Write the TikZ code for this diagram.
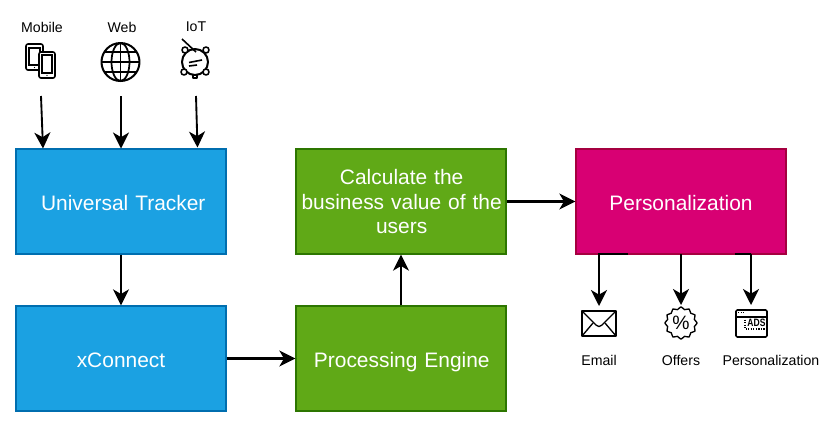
\documentclass[tikz,border=0pt]{standalone}
\usepackage{fontspec}
\setmainfont{Liberation Sans}
\usetikzlibrary{arrows.meta}
\definecolor{bluebox}{HTML}{1BA1E2}
\definecolor{blueline}{HTML}{006EAF}
\definecolor{greenbox}{HTML}{60A917}
\definecolor{greenline}{HTML}{2D7600}
\definecolor{pinkbox}{HTML}{D80073}
\definecolor{pinkline}{HTML}{A50040}
\newcommand{\lowered}[1]{\raisebox{-6.4pt}[0pt][0pt]{#1}}
\tikzset{
  x=0.75pt,y=-0.75pt,
  boxnode/.style={draw,line width=1pt,minimum width=157.5pt,minimum height=78.75pt,text width=155pt,align=center,text=white,font=\fontsize{15.7}{18}\selectfont,inner sep=0pt},
  bluenode/.style={boxnode,fill=bluebox,draw=blueline},
  greennode/.style={boxnode,fill=greenbox,draw=greenline},
  pinknode/.style={boxnode,fill=pinkbox,draw=pinkline},
  lbl/.style={font=\fontsize{10.6}{12}\selectfont,text=black,inner sep=0pt},
  link/.style={line width=1.4pt,draw=black,-{Stealth[length=12pt,width=12pt,inset=3.5pt]}},
  hlink/.style={link,line width=1.55pt},
  icon/.style={line width=1.2pt,draw=black,line join=round},
  iconthin/.style={line width=0.9pt,draw=black}
}
\begin{document}
\begin{tikzpicture}
\useasboundingbox (0,0) rectangle (839,437);
\fill[white] (0,0) rectangle (839,437);
\node[bluenode] (ut) at (121,201.5) {\lowered{\hspace*{3.4pt}Universal Tracker}};
\node[bluenode] (xc) at (121,358.5) {\lowered{xConnect}};
\node[greennode] (pe) at (401,358.5) {\lowered{\hspace*{1.2pt}Processing Engine}};
\node[greennode] (cb) at (401,201.5) {\vspace*{1.2pt}\hspace*{1pt}Calculate the\\\hspace*{1pt}business value of the\\\hspace*{1pt}users};
\node[pinknode] (pz) at (681,201.5) {\lowered{Personalization}};
% labels
\node[lbl] (lmobile) at (42,27) {Mobile};
\node[lbl] (lweb) at (122,27) {Web};
\node[lbl] (liot) at (196,27) {IoT};
\node[lbl] (lemail) at (599,360) {Email};
\node[lbl] (loffers) at (681,360) {Offers};
\node[lbl] (lpers) at (771,360) {Personalization};
% mobile icon
\draw[icon,rounded corners=1.5pt] (26,44) rectangle (43,70);
\draw[iconthin] (29,48) rectangle (40,65);
\fill[white,rounded corners=1.5pt] (39,52) rectangle (55,78);
\draw[icon,rounded corners=1.5pt] (39,52) rectangle (55,78);
\draw[iconthin] (42,55) rectangle (52,73);
\fill (34.5,67.5) circle (0.7) (47,75.5) circle (0.7);
% globe icon
\draw[icon,line width=1.5pt] (120.5,62) circle (19);
\draw[icon,line width=1.3pt] (120.5,62) ellipse (9 and 19);
\draw[icon,line width=1.3pt] (120.5,43) -- (120.5,81) (101.5,62) -- (139.5,62);
\draw[icon,line width=1.3pt] (104,52) -- (137,52) (104,72) -- (137,72);
% IoT icon
\draw[icon,line width=1.5pt] (195,62) circle (13);
\foreach \a/\b in {185/50,206/50,184/72,206/72}{\draw[icon,fill=white] (\a,\b) circle (3);}
\draw[icon] (193,75) rectangle (197,78);
\draw[icon] (182,39) -- (196,52);
\draw[icon] (189,62.5) -- (202,60) (189,66) -- (197,65);
% email icon
\draw[icon] (582,311) rectangle (616,336);
\draw[icon,line width=1pt] (582,311) -- (596,325) .. controls (598,327) and (600,327) .. (602,325) -- (616,311);
\draw[icon,line width=1pt] (582,336) -- (593,323) (616,336) -- (605,323);
% offers icon
\draw[icon,line width=1pt,smooth cycle] plot[samples=24,domain=0:345,variable=\t] ({681+(15+1.2*cos(12*\t))*cos(\t)},{323+(15+1.2*cos(12*\t))*sin(\t)});
\node[inner sep=0pt,font=\fontsize{14.5}{14.5}\selectfont] (pct) at (681,323) {\%};
% ads icon
\draw[icon,rounded corners=1pt] (736,310) rectangle (767,337);
\draw[iconthin] (736,317) -- (767,317);
\draw[iconthin,densely dotted] (738,312.5) -- (744,312.5);
\draw[iconthin,densely dotted] (745,317) -- (745,329) -- (767,329);
\node[inner sep=0pt,font=\fontsize{8}{8}\bfseries\selectfont,xscale=0.8] (ads) at (756.5,322.5) {ADS};
% free ends
\coordinate (m0) at (41,96);
\coordinate (w0) at (121,96);
\coordinate (i0) at (196,96);
\coordinate (m1) at (43,148.5);
\coordinate (w1) at (121,148.5);
\coordinate (i1) at (197.5,147.5);
\coordinate (e0) at (599,254);
\coordinate (e1) at (599,306);
\coordinate (o0) at (681,254);
\coordinate (o1) at (681,305);
\coordinate (p0) at (751,254);
\coordinate (p1) at (751,305);
\draw[link] (m0) -- (m1);
\draw[link] (w0) -- (w1);
\draw[link] (i0) -- (i1);
\draw[link] (ut.south) -- (xc.north);
\draw[hlink] (xc.east) -- (pe.west);
\draw[link] (pe.north) -- (cb.south);
\draw[hlink] (cb.east) -- (pz.west);
\draw[link] (e0) -- (e1);
\draw[link] (o0) -- (o1);
\draw[link] (p0) -- (p1);
\draw[line width=1.1pt] (598,254) -- (628,254) (735,254) -- (751,254);
\end{tikzpicture}
\end{document}
